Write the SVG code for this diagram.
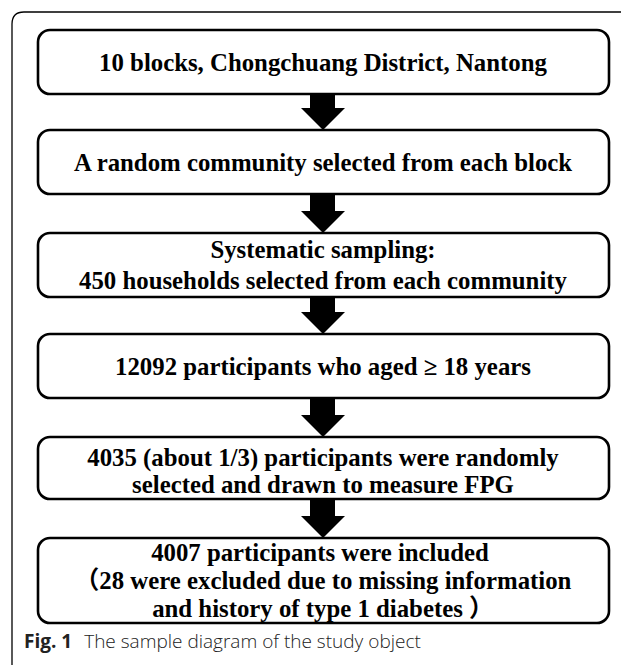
<svg xmlns="http://www.w3.org/2000/svg" width="621" height="666" viewBox="0 0 621 666">
<style>
.box{fill:#fff;stroke:#000;stroke-width:2.6}
.t{font-family:"Liberation Serif","Times New Roman","Noto Sans CJK SC",serif;font-weight:bold;font-size:24.8px;fill:#000;text-anchor:middle}
.arr{fill:#000;stroke:none}
.cap{font-family:"Open Sans","Noto Sans",sans-serif;font-size:19px;fill:#222}
</style>
<rect width="621" height="666" fill="#fff"/>
<path d="M12 665 L12 24 Q12 12 24 12 L621 12" fill="none" stroke="#000" stroke-width="1.3"/>
<g id="connectors">
<path class="arr" d="M310 94 H335 V108 H345 L323 130 L301 108 H310 Z"/>
<path class="arr" d="M310 194 H335 V211 H345 L323 233 L301 211 H310 Z"/>
<path class="arr" d="M310 297 H335 V312 H345 L323 334 L301 312 H310 Z"/>
<path class="arr" d="M310 398 H335 V415 H345 L323 437 L301 415 H310 Z"/>
<path class="arr" d="M310 499 H335 V516 H345 L323 538 L301 516 H310 Z"/>
</g>
<g id="n1"><rect class="box" x="38" y="30" width="571" height="64" rx="12"/>
<text class="t" x="323" y="71">10 blocks, Chongchuang District, Nantong</text></g>
<g id="n2"><rect class="box" x="38" y="130" width="571" height="64" rx="12"/>
<text class="t" x="323" y="171">A random community selected from each block</text></g>
<g id="n3"><rect class="box" x="38" y="233" width="571" height="64" rx="12"/>
<text class="t" x="323" y="258">Systematic sampling:</text>
<text class="t" x="323" y="289">450 households selected from each community</text></g>
<g id="n4"><rect class="box" x="38" y="334" width="571" height="64" rx="12"/>
<text class="t" x="323" y="375">12092 participants who aged ≥ 18 years</text></g>
<g id="n5"><rect class="box" x="38" y="437" width="571" height="62" rx="12"/>
<text class="t" x="323" y="466">4035 (about 1/3) participants were randomly</text>
<text class="t" x="323" y="493">selected and drawn to measure FPG</text></g>
<g id="n6"><rect class="box" x="38" y="538" width="571" height="85" rx="12"/>
<text class="t" x="320" y="561">4007 participants were included</text>
<text class="t" x="323" y="589">（28 were excluded due to missing information</text>
<text class="t" x="323" y="617">and history of type 1 diabetes ）</text></g>
<text class="cap" x="24" y="648"><tspan font-weight="bold">Fig. 1</tspan><tspan font-weight="300" dx="12">The sample diagram of the study object</tspan></text>
</svg>
